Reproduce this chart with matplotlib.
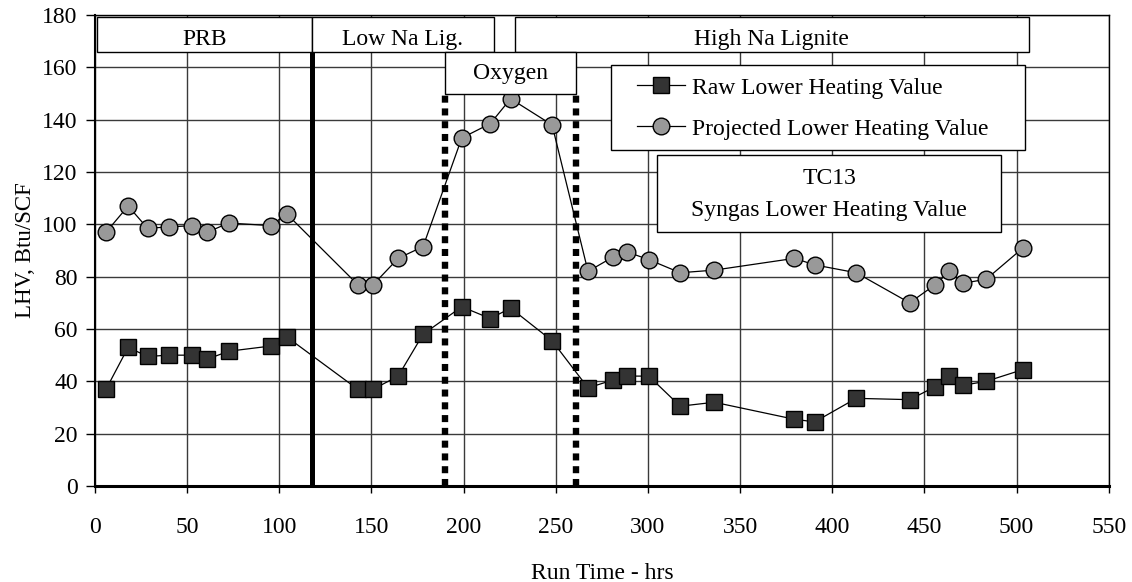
import matplotlib
matplotlib.use("Agg")
import matplotlib.pyplot as plt
from matplotlib.patches import Rectangle

plt.rcParams['font.family'] = ['Liberation Serif', 'DejaVu Serif']

# ---- data ----
raw_time = [6, 18, 28.5, 40, 52.5, 61, 72.5, 95.5, 104, 142.5, 151, 164.5, 178, 199, 214.5, 225.5,
            248, 267.5, 281, 288.5, 300.5, 317.5, 336, 379.5, 390.5, 413, 442, 456, 463.5, 471, 483.5, 503.5]
raw_lhv = [37, 53, 49.5, 50, 50, 48.5, 51.5, 53.5, 57, 37, 37, 42, 58, 68.5, 64, 68,
           55.5, 37.5, 40.5, 42, 42, 30.5, 32, 25.5, 24.5, 33.5, 33, 38, 42, 38.5, 40, 44.5]

proj_time = raw_time
proj_lhv = [97, 107, 98.5, 99, 99.5, 97, 100.5, 99.5, 104, 77, 77, 87, 91.5, 133, 138.5, 148,
            138, 82, 87.5, 89.5, 86.5, 81.5, 82.5, 87, 84.5, 81.5, 70, 77, 82, 77.5, 79, 91]

series_labels = ["Raw Lower Heating Value", "Projected Lower Heating Value"]
x_ticks = list(range(0, 551, 50))
y_ticks = list(range(0, 181, 20))

# fuel / oxygen periods
fuel_labels = ["PRB", "Low Na Lig.", "High Na Lignite"]
fuel_start = [1.3, 117.5, 228]
fuel_end = [117.5, 216.5, 506.5]
oxygen_label = "Oxygen"
oxygen_start = 190
oxygen_end = 261
fuel_change = 117.5

title_lines = ["TC13", "Syngas Lower Heating Value"]

FS = 17

# ---- figure ----
fig = plt.figure(figsize=(11.32, 5.82), dpi=100)
ax = fig.add_axes([95/1132, 1-486/582, (1108.7-95)/1132, (486-15)/582])
ax.set_xlim(0, 550)
ax.set_ylim(0, 180)
ax.set_xticks(x_ticks)
ax.set_yticks(y_ticks)
ax.grid(True, color='#3a3a3a', linewidth=1.0)
ax.set_axisbelow(True)
ax.tick_params(axis='both', labelsize=FS, direction='out', width=1, color='black')
ax.tick_params(axis='x', length=5, pad=17)
ax.tick_params(axis='y', length=6.5, pad=6)
for s in ['top', 'right']:
    ax.spines[s].set_linewidth(1.0)
ax.spines['bottom'].set_linewidth(2.2)
ax.spines['left'].set_linewidth(1.5)

ax.set_xlabel("Run Time - hrs", fontsize=FS)
ax.set_ylabel("LHV, Btu/SCF", fontsize=16.5)
ax.xaxis.set_label_coords(0.5, -0.163)
ax.yaxis.set_label_coords(-0.058, 0.5)

# period lines
ax.plot([fuel_change, fuel_change], [0, 166], color='black', linewidth=3.6, solid_capstyle='butt', zorder=3)
for xv in (oxygen_start, oxygen_end):
    ax.plot([xv, xv], [0, 150], color='black', linewidth=4.6, dashes=(1.1, 0.9),
            dash_capstyle='butt', zorder=3)

# series
ax.plot(raw_time, raw_lhv, color='black', linewidth=0.9, marker='s', markersize=11.5,
        markerfacecolor='#333333', markeredgecolor='black', markeredgewidth=1.0,
        label=series_labels[0], zorder=4)
ax.plot(proj_time, proj_lhv, color='black', linewidth=0.9, marker='o', markersize=12,
        markerfacecolor='#999999', markeredgecolor='black', markeredgewidth=1.0,
        label=series_labels[1], zorder=4)

# fuel boxes
for lab, x0, x1 in zip(fuel_labels, fuel_start, fuel_end):
    ax.add_patch(Rectangle((x0, 166), x1 - x0, 13.2, facecolor='white', edgecolor='black',
                           linewidth=1.0, zorder=5, clip_on=False))
    ax.text((x0 + x1) / 2, 168.4, lab, ha='center', va='baseline', fontsize=FS, zorder=6)

ax.add_patch(Rectangle((oxygen_start, 150), oxygen_end - oxygen_start, 16, facecolor='white',
                       edgecolor='black', linewidth=1.0, zorder=5))
ax.text((oxygen_start + oxygen_end) / 2, 155.4, oxygen_label, ha='center', va='baseline',
        fontsize=FS, zorder=6)

# title box
ax.add_patch(Rectangle((305, 97.2), 186.6, 29.3, facecolor='white', edgecolor='black',
                       linewidth=1.0, zorder=5))
ax.text(398.3, 115.6, title_lines[0], ha='center', va='baseline', fontsize=FS, zorder=6)
ax.text(398.3, 103.3, title_lines[1], ha='center', va='baseline', fontsize=FS, zorder=6)

# legend (frame drawn as a rectangle, entries via the legend)
ax.add_patch(Rectangle((279.8, 128.4), 224.6, 32.5, facecolor='white', edgecolor='black',
                       linewidth=1.0, zorder=5))
leg = ax.legend(loc='center left', bbox_to_anchor=(294.1, 144.3), bbox_transform=ax.transData,
                fontsize=FS, frameon=False, handlelength=2.03, handletextpad=0.3,
                borderpad=0, labelspacing=0.83, borderaxespad=0)
leg.set_zorder(6)

fig.savefig("out.png", dpi=100)
